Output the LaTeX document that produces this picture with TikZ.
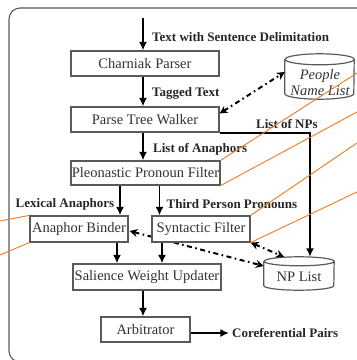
\documentclass[tikz,border=0pt]{standalone}
\usepackage{fontspec}
\setmainfont{Liberation Serif}
\usetikzlibrary{arrows.meta,backgrounds}
\definecolor{boxgray}{HTML}{5A5A5A}
\definecolor{txtgray}{HTML}{333333}
\definecolor{orng}{HTML}{F07A1E}
\tikzset{
  procbox/.style={draw=boxgray, line width=1.2pt, fill=white, inner sep=0pt,
    text=txtgray, font=\fontsize{14.5}{16}\selectfont},
  lbl/.style={inner sep=0pt, font=\fontsize{13}{15}\selectfont\bfseries, text=black!85},
  arr/.style={line width=1.8pt, -{Latex[length=8.5pt,width=8pt]}},
  dd/.style={line width=2pt, dash pattern=on 5pt off 3.5pt on 1.6pt off 3.5pt,
    {Stealth[length=8pt,width=8pt]}-{Stealth[length=8pt,width=8pt]}},
  cyl/.style={draw=boxgray, line width=1.2pt},
  orl/.style={draw=orng, line width=0.9pt}
}
\begin{document}
\begin{tikzpicture}[x=1pt,y=-1pt]
\useasboundingbox (0,0) rectangle (357,360);
\clip (0,0) rectangle (357,360);
% frame
\draw[boxgray, line width=1.1pt, rounded corners=11pt] (9,8) rectangle (372,362);

% boxes
\node[procbox, minimum width=148pt, minimum height=25pt] (cp) at (145,63.5) {Charniak Parser};
\node[procbox, minimum width=148pt, minimum height=25pt] (ptw) at (145,119.5) {Parse Tree Walker};
\node[procbox, minimum width=149pt, minimum height=24pt] (pl) at (145.5,173) {Pleonastic Pronoun Filter};
\node[procbox, minimum width=98pt, minimum height=26pt] (ab) at (79,229) {Anaphor Binder};
\node[procbox, minimum width=98pt, minimum height=26pt] (sf) at (201,229) {Syntactic Filter};
\node[procbox, minimum width=148pt, minimum height=26pt] (sw) at (147,277) {Salience Weight Updater};
\node[procbox, minimum width=89pt, minimum height=25pt] (arb) at (145.5,329.5) {Arbitrator};

% databases
\node[inner sep=0pt, minimum width=69pt, minimum height=45pt] (ppl) at (319.5,76.5) {};
\draw[cyl] ([yshift=-5.5pt]ppl.north west) -- ([yshift=5.5pt]ppl.south west)
  arc[start angle=180,end angle=360,x radius=34.5pt,y radius=5.5pt]
  -- ([yshift=-5.5pt]ppl.north east)
  arc[start angle=0,end angle=360,x radius=34.5pt,y radius=5.5pt];
\node[inner sep=0pt, text=txtgray, font=\fontsize{14.5}{16}\selectfont\itshape] (ppl1) at (320,76) {People};
\node[inner sep=0pt, text=txtgray, font=\fontsize{14.5}{16}\selectfont\itshape] (ppl2) at (320,91) {Name List};

\node[inner sep=0pt, minimum width=70pt, minimum height=33pt] (np) at (299,273.5) {};
\draw[cyl] ([yshift=-4.5pt]np.north west) -- ([yshift=4.5pt]np.south west)
  arc[start angle=180,end angle=360,x radius=35pt,y radius=4.5pt]
  -- ([yshift=-4.5pt]np.north east)
  arc[start angle=0,end angle=360,x radius=35pt,y radius=4.5pt];
\node[inner sep=0pt, text=txtgray, font=\fontsize{14.5}{16}\selectfont] (npt) at (299,277) {NP List};

% labels
\node[lbl, anchor=west] (l1) at (152,37.5) {Text with Sentence Delimitation};
\node[lbl, anchor=west] (l2) at (152,93) {Tagged Text};
\node[lbl, anchor=west] (l3) at (153,149) {List of Anaphors};
\node[lbl, anchor=west] (l4) at (256,123.5) {List of NPs};
\node[lbl, anchor=west] (l5) at (15.5,204) {Lexical Anaphors};
\node[lbl, anchor=west] (l6) at (166.5,204) {Third Person Pronouns};
\node[lbl, anchor=west] (l7) at (232,333) {Coreferential Pairs};

% solid arrows
\coordinate (in) at (143,18);
\coordinate (out) at (229,333);
\draw[arr] (in) -- (cp.north -| in);
\draw[arr] (cp.south -| in) -- (ptw.north -| in);
\draw[arr] (ptw.south -| in) -- (pl.north -| in);
\draw[arr] (pl.south -| 120,0) -- (ab.north -| 120,0);
\draw[arr] (pl.south -| 159.5,0) -- (sf.north -| 159.5,0);
\draw[arr] (ab.south -| 117,0) -- (sw.north -| 117,0);
\draw[arr] (sf.south -| 162,0) -- (sw.north -| 162,0);
\draw[arr] (sw.south -| 143,0) -- (arb.north -| 143,0);
\draw[arr] (arb.east |- out) -- (out);
\draw[arr] (ptw.south east) -- (310,132 |- ptw.south east) -- (310,0 |- np.north);

% dotted two-way arrows
\draw[dd] ([yshift=6pt]ptw.east) -- ([yshift=4.5pt]ppl.west);
\draw[dd] (sf.south east) -- ([xshift=-15pt]np.north);
\begin{scope}[on background layer]
\draw[dd] ([shift={(1pt,-2pt)}]ab.east) -- ([yshift=7.5pt]np.west);
\end{scope}

% orange lines
\coordinate (o1) at (357,73);
\coordinate (o2) at (357,112);
\coordinate (o3) at (357,143);
\coordinate (o4) at (357,192);
\coordinate (o5) at (0,221);
\coordinate (o6) at (0,255);
\draw[orl] (pl.north east) -- (o1);
\draw[orl] (pl.south east) -- (o2);
\draw[orl] (sf.north east) -- (o3);
\draw[orl] (sf.south east) -- (o4);
\draw[orl] (ab.north west) -- (o5);
\draw[orl] (ab.south west) -- (o6);
\end{tikzpicture}
\end{document}
